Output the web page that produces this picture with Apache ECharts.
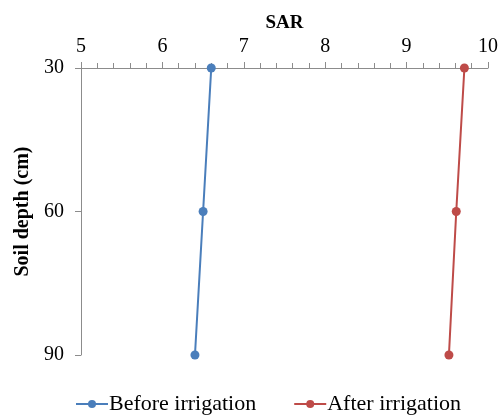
<!DOCTYPE html>
<html>
<head>
<meta charset="utf-8">
<script src="https://cdn.jsdelivr.net/npm/echarts@6/dist/echarts.min.js"></script>
<style>html,body{margin:0;padding:0;background:#fff}#c{width:501px;height:415px}</style>
</head>
<body>
<div id="c"></div>
<script>
var depths = [30, 60, 90];
var beforeIrrigation = [6.6, 6.5, 6.4];
var afterIrrigation = [9.71, 9.61, 9.52];
var xTicks = [5, 6, 7, 8, 9, 10];
var seriesNames = ['Before irrigation', 'After irrigation'];

var font = '"Liberation Serif", "Times New Roman", serif';
var axisGray = '#8c8c8c';
function pairs(vals) { return vals.map(function (v, i) { return [v, depths[i]]; }); }

var chart = echarts.init(document.getElementById('c'));
chart.setOption({
  animation: false,
  grid: { left: 81, right: 9, top: 68, bottom: 60 },
  xAxis: {
    type: 'value', position: 'top',
    min: xTicks[0], max: xTicks[xTicks.length - 1], interval: 1,
    name: 'SAR', nameLocation: 'middle', nameGap: 34,
    nameTextStyle: { fontFamily: font, fontWeight: 'bold', fontSize: 19, color: '#000' },
    axisLine: { show: true, lineStyle: { color: axisGray, width: 1 } },
    axisTick: { show: true, length: 6, lineStyle: { color: axisGray } },
    minorTick: { show: true, splitNumber: 5, length: 5, lineStyle: { color: axisGray } },
    axisLabel: { fontFamily: font, fontSize: 20, color: '#000', margin: 11 },
    splitLine: { show: false }
  },
  yAxis: {
    type: 'value', inverse: true,
    min: depths[0], max: depths[depths.length - 1], interval: 30,
    name: 'Soil depth (cm)', nameLocation: 'middle', nameGap: 48, nameRotate: 90,
    nameTextStyle: { fontFamily: font, fontWeight: 'bold', fontSize: 20, color: '#000' },
    axisLine: { show: true, lineStyle: { color: axisGray, width: 1 } },
    axisTick: { show: true, length: 6, lineStyle: { color: axisGray } },
    axisLabel: { fontFamily: font, fontSize: 20, color: '#000', margin: 17 },
    splitLine: { show: false }
  },
  legend: {
    top: 388, left: 70, itemWidth: 32, itemHeight: 10, itemGap: 37,
    textStyle: { fontFamily: font, fontSize: 22, color: '#000', padding: [0, 0, 0, -4] },
    data: seriesNames
  },
  series: [
    {
      name: seriesNames[0], type: 'line', data: pairs(beforeIrrigation),
      symbol: 'circle', symbolSize: 9,
      lineStyle: { color: '#4a7ebb', width: 2 }, itemStyle: { color: '#4a7ebb' }
    },
    {
      name: seriesNames[1], type: 'line', data: pairs(afterIrrigation),
      symbol: 'circle', symbolSize: 9,
      lineStyle: { color: '#be4b48', width: 2 }, itemStyle: { color: '#be4b48' }
    }
  ]
});
</script>
</body>
</html>
